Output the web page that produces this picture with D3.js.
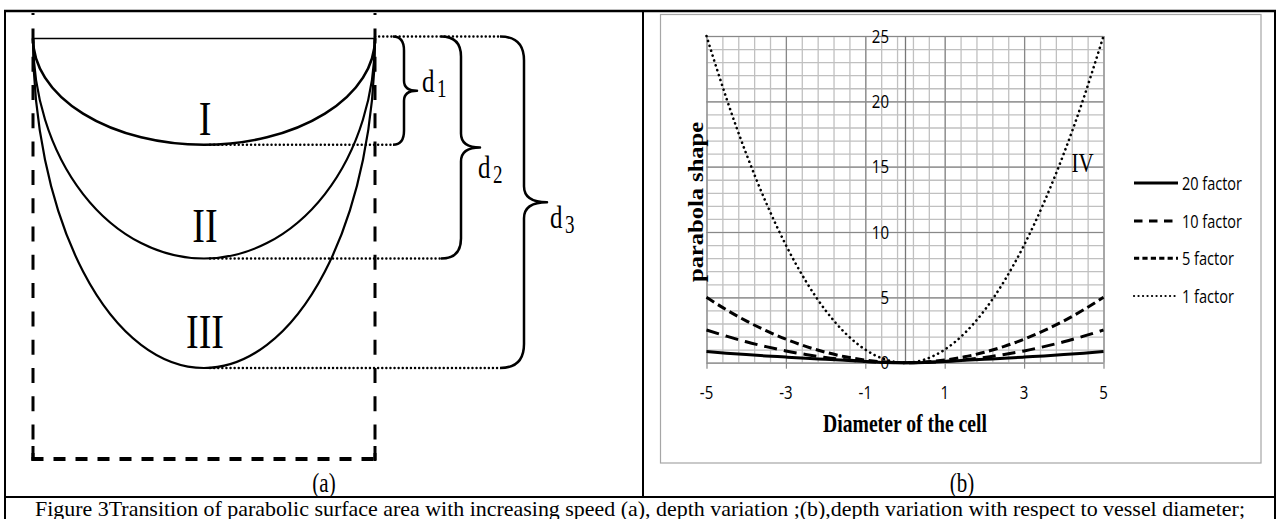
<!DOCTYPE html>
<html><head><meta charset="utf-8">
<script src="https://cdn.jsdelivr.net/npm/d3@7"></script>
<style>html,body{margin:0;padding:0;background:#fff;overflow:hidden}</style>
</head><body><svg id="c" width="1279" height="519" xmlns="http://www.w3.org/2000/svg"></svg>
<script>
// ---------------- data ----------------
const xValues   = [-5,-4.5,-4,-3.5,-3,-2.5,-2,-1.5,-1,-0.5,0,0.5,1,1.5,2,2.5,3,3.5,4,4.5,5];
const factor1   = [25,20.25,16,12.25,9,6.25,4,2.25,1,0.25,0,0.25,1,2.25,4,6.25,9,12.25,16,20.25,25];
const factor5   = [5,4.05,3.2,2.45,1.8,1.25,0.8,0.45,0.2,0.05,0,0.05,0.2,0.45,0.8,1.25,1.8,2.45,3.2,4.05,5];
const factor10  = [2.5,2.03,1.6,1.23,0.9,0.63,0.4,0.23,0.1,0.03,0,0.03,0.1,0.23,0.4,0.63,0.9,1.23,1.6,2.03,2.5];
const factor20  = [0.85,0.73,0.62,0.52,0.43,0.34,0.26,0.18,0.1,0.02,0,0.02,0.1,0.18,0.26,0.34,0.43,0.52,0.62,0.73,0.85];
const seriesNames = ["20 factor","10 factor","5 factor","1 factor"];
const xTickLabels = [-5,-3,-1,1,3,5];
const yTickLabels = [0,5,10,15,20,25];
const curveLabel  = "IV";
const xTitle = "Diameter of the cell";
const yTitle = "parabola shape";
const depthNames  = ["I","II","III"];
const depthValues = [1, 2.07, 3.1];
const depthSubs   = ["1","2","3"];
const panelLabels = ["(a)","(b)"];
const caption = "Figure 3Transition of parabolic surface area with increasing speed (a), depth variation ;(b),depth variation with respect to vessel diameter;";

// ---------------- setup ----------------
const svg = d3.select("#c");
const SY = 1.27; // vertical stretch of the original picture
const serif = "'Liberation Serif','Times New Roman',serif";
const sans = "'Open Sans','Noto Sans',sans-serif";

function txt(x, y, s, o = {}) {
  const t = svg.append("text")
    .attr("transform", `translate(${x},${y}) scale(1,${o.sy || SY})${o.rot ? " rotate(" + o.rot + ")" : ""}`)
    .attr("font-family", o.family || serif)
    .attr("font-size", o.size || 16)
    .attr("font-weight", o.weight || "normal")
    .attr("text-anchor", o.anchor || "start")
    .attr("fill", "#000")
    .text(s);
  if (o.len) t.attr("textLength", o.len).attr("lengthAdjust", "spacingAndGlyphs");
  return t;
}

// ---------------- table frame ----------------
const frame = svg.append("g").attr("stroke", "#000").attr("fill", "none");
frame.append("line").attr("x1", 4).attr("x2", 1276).attr("y1", 11).attr("y2", 11).attr("stroke-width", 2.5);
frame.append("line").attr("x1", 5).attr("x2", 5).attr("y1", 10).attr("y2", 519).attr("stroke-width", 2);
frame.append("line").attr("x1", 1275).attr("x2", 1275).attr("y1", 10).attr("y2", 519).attr("stroke-width", 2);
frame.append("line").attr("x1", 643).attr("x2", 643).attr("y1", 10).attr("y2", 497).attr("stroke-width", 2);
frame.append("line").attr("x1", 4).attr("x2", 1276).attr("y1", 497).attr("y2", 497).attr("stroke-width", 2);

txt(324, 492, panelLabels[0], {size: 21, anchor: "middle"});
txt(962, 492, panelLabels[1], {size: 21, anchor: "middle"});
txt(640, 515.5, caption, {size: 16.5, anchor: "middle", len: 1210, sy: 1.22});

// ---------------- panel (a) ----------------
const xL = 33, xR = 375, xC = (xL + xR) / 2;
const depthY = d3.scaleLinear().domain([0, 3.1]).range([38.5, 368]);
const pa = svg.append("g").attr("fill", "none").attr("stroke", "#000");

// dashed container
pa.append("line").attr("x1", xL).attr("x2", xL).attr("y1", 13).attr("y2", 460)
  .attr("stroke-width", 3).attr("stroke-dasharray", "15 13.3").attr("stroke-dashoffset", 12.9);
pa.append("line").attr("x1", xR).attr("x2", xR).attr("y1", 13).attr("y2", 460)
  .attr("stroke-width", 3).attr("stroke-dasharray", "15 13.3").attr("stroke-dashoffset", 12.9);
pa.append("line").attr("x1", xL - 1.5).attr("x2", xR + 1.5).attr("y1", 459).attr("y2", 459)
  .attr("stroke-width", 4).attr("stroke-dasharray", "12 10");
pa.append("line").attr("x1", xL).attr("x2", xL).attr("y1", 446).attr("y2", 461).attr("stroke-width", 3);
pa.append("line").attr("x1", xR).attr("x2", xR).attr("y1", 446).attr("y2", 461).attr("stroke-width", 3);

// top rim
pa.append("line").attr("x1", xL).attr("x2", xR).attr("y1", depthY(0)).attr("y2", depthY(0)).attr("stroke-width", 1.3);

// half-ellipse surfaces
depthValues.forEach((d, i) => {
  const ry = depthY(d) - depthY(0), rx = (xR - xL) / 2;
  pa.append("path")
    .attr("d", `M${xL},${depthY(0)} A${rx},${ry} 0 0 0 ${xR},${depthY(0)}`)
    .attr("stroke-width", i === 0 ? 2.6 : 2.2);
});

// dotted guides
const dotted = {"stroke-width": 2.4, "stroke-dasharray": "0.1 4", "stroke-linecap": "round"};
const braceX = [[393, 404, 417, 14, 10], [441, 461, 480, 20, 14], [500, 524, 547, 24, 16]];
const topY = 36.5;
function applyAttrs(sel, a) { Object.entries(a).forEach(([k, v]) => sel.attr(k, v)); return sel; }
applyAttrs(pa.append("line").attr("x1", xR).attr("x2", braceX[2][0]).attr("y1", topY).attr("y2", topY), dotted);
depthValues.forEach((d, i) => {
  applyAttrs(pa.append("line").attr("x1", xC + 6).attr("x2", braceX[i][0]).attr("y1", depthY(d)).attr("y2", depthY(d)), dotted);
});

// braces
depthValues.forEach((d, i) => {
  const [xl, xv, xp, r, cr] = braceX[i];
  const yt = topY, yb = depthY(d), ym = (yt + yb) / 2;
  const p = d3.path();
  p.moveTo(xl, yt);
  p.quadraticCurveTo(xv, yt, xv, yt + r);
  p.lineTo(xv, ym - cr);
  p.quadraticCurveTo(xv, ym, xp, ym);
  p.quadraticCurveTo(xv, ym, xv, ym + cr);
  p.lineTo(xv, yb - r);
  p.quadraticCurveTo(xv, yb, xl, yb);
  pa.append("path").attr("d", p.toString()).attr("stroke-width", 2.5).attr("stroke-linejoin", "round");
});

// labels
const romanBase = [135, 241.5, 348.3];
depthNames.forEach((n, i) => txt(xC + 1, romanBase[i], n, {size: 38, anchor: "middle"}));
const dPos = [[422, 92], [478, 178], [550, 228]];
depthSubs.forEach((s, i) => {
  txt(dPos[i][0], dPos[i][1], "d", {size: 25});
  txt(dPos[i][0] + 15, dPos[i][1] + 4.5, s, {size: 19});
});

// ---------------- panel (b) chart ----------------
svg.append("rect").attr("x", 660.5).attr("y", 14.5).attr("width", 600.5).attr("height", 448.5)
  .attr("fill", "none").attr("stroke", "#a6a6a6").attr("stroke-width", 1.2);

const xs = d3.scaleLinear().domain([-5, 5]).range([706.5, 1103.5]);
const ys = d3.scaleLinear().domain([0, 25]).range([362.7, 36]);
const plotW = xs(5) - xs(-5), plotH = ys(0) - ys(25);

function styleGrid(g, color, w) {
  g.select(".domain").remove();
  g.selectAll(".tick line").attr("stroke", color).attr("stroke-width", w);
  g.selectAll(".tick text").remove();
}
const minorX = d3.range(0, 26).map(i => -5 + 0.4 * i);
const minorY = d3.range(0, 26);

svg.append("g").attr("transform", `translate(0,${ys(0)})`)
  .call(d3.axisBottom(xs).tickValues(minorX).tickSize(-plotH).tickFormat(""))
  .call(g => styleGrid(g, "#c0c0c0", 1.3));
svg.append("g").attr("transform", `translate(${xs(-5)},0)`)
  .call(d3.axisLeft(ys).tickValues(minorY).tickSize(-plotW).tickFormat(""))
  .call(g => styleGrid(g, "#c0c0c0", 1.3));
svg.append("g").attr("transform", `translate(0,${ys(0)})`)
  .call(d3.axisBottom(xs).tickValues(xTickLabels).tickSize(-plotH).tickFormat(""))
  .call(g => styleGrid(g, "#888888", 1.2));
svg.append("g").attr("transform", `translate(0,${ys(0)})`)
  .call(d3.axisBottom(xs).tickValues(xTickLabels).tickSize(6).tickFormat(""))
  .call(g => styleGrid(g, "#888888", 1.2));
svg.append("g").attr("transform", `translate(${xs(-5)},0)`)
  .call(d3.axisLeft(ys).tickValues(yTickLabels).tickSize(-plotW).tickFormat(""))
  .call(g => styleGrid(g, "#888888", 1.2));
// vertical axis at x = 0
svg.append("g").attr("transform", `translate(${xs(0)},0)`)
  .call(d3.axisLeft(ys).tickValues([]).tickSizeOuter(0))
  .call(g => g.select(".domain").attr("stroke", "#777").attr("stroke-width", 1.3));

// tick labels
xTickLabels.forEach(v => txt(xs(v), 399, String(v), {family: sans, size: 15, anchor: "middle", sy: 1.25}));
yTickLabels.forEach(v => txt(xs(0) - 16, ys(v) + 6.5, String(v), {family: sans, size: 15, anchor: "end", sy: 1.25}));

// series
const seriesData = [factor20, factor10, factor5, factor1];
const styles = [
  {w: 3, dash: null, cap: "butt"},
  {w: 3, dash: "13 7", cap: "butt"},
  {w: 3, dash: "9 4.5", cap: "butt"},
  {w: 2.6, dash: "0.1 5", cap: "round"}
];
const line = d3.line().x((d, i) => xs(xValues[i])).y(d => ys(d)).curve(d3.curveNatural);
[3, 2, 1, 0].forEach(k => {
  const p = svg.append("path").attr("d", line(seriesData[k])).attr("fill", "none")
    .attr("stroke", "#000").attr("stroke-width", styles[k].w).attr("stroke-linecap", styles[k].cap);
  if (styles[k].dash) p.attr("stroke-dasharray", styles[k].dash);
});

txt(1071.5, 171.5, curveLabel, {size: 21});

// axis titles
txt(xs(0), 432, xTitle, {size: 19.5, weight: "bold", anchor: "middle", len: 164});
txt(703, 202, yTitle, {size: 21, weight: "bold", anchor: "middle", rot: -90, len: 126});

// legend
const legY = [183, 221, 258.3, 296];
const legDash = [null, "8.5 6.5", "5.2 3.2", "0.1 4.4"];
seriesNames.forEach((n, i) => {
  const l = svg.append("line").attr("x1", 1134).attr("x2", 1178).attr("y1", legY[i]).attr("y2", legY[i])
    .attr("stroke", "#000").attr("stroke-width", i === 3 ? 2.2 : 3)
    .attr("stroke-linecap", i === 3 ? "round" : "butt");
  if (legDash[i]) l.attr("stroke-dasharray", legDash[i]);
  txt(1182, legY[i] + 6.5, n, {family: sans, size: 15, len: i < 2 ? 60 : 52, sy: 1.2});
});
</script></body></html>
